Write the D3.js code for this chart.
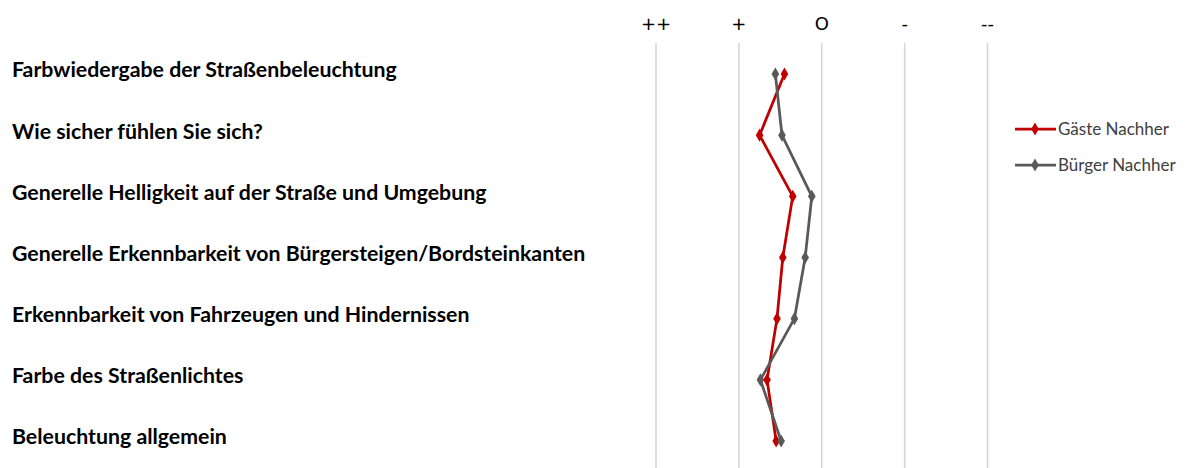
<!DOCTYPE html>
<html>
<head>
<meta charset="utf-8">
<script src="https://cdn.jsdelivr.net/npm/d3@7"></script>
<style>
  body { margin: 0; background: #fff; }
  svg { display: block; }
  .row-label { font-family: Lato, "Open Sans", sans-serif; font-weight: 700; font-size: 21.3px; fill: #000; }
  .scale-label { font-family: "DejaVu Sans", sans-serif; font-size: 18px; fill: #000; }
  .legend-label { font-family: Lato, sans-serif; font-size: 17px; fill: #404040; }
</style>
</head>
<body>
<div id="chart"></div>
<script>
// questions, top to bottom
const questions = [
  'Farbwiedergabe der Straßenbeleuchtung',
  'Wie sicher fühlen Sie sich?',
  'Generelle Helligkeit auf der Straße und Umgebung',
  'Generelle Erkennbarkeit von Bürgersteigen/Bordsteinkanten',
  'Erkennbarkeit von Fahrzeugen und Hindernissen',
  'Farbe des Straßenlichtes',
  'Beleuchtung allgemein'
];
// rating scale 1 (++) .. 5 (--)
const scaleLabels = ['++', '+', 'O', '-', '--'];
const gaesteNachher = [2.55, 2.25, 2.65, 2.53, 2.46, 2.34, 2.45];
const buergerNachher = [2.44, 2.52, 2.88, 2.80, 2.67, 2.26, 2.51];
const seriesNames = ['Gäste Nachher', 'Bürger Nachher'];
const seriesColors = ['#c00000', '#595959'];

const width = 1196, height = 468;
const svg = d3.select('#chart').append('svg')
  .attr('width', width)
  .attr('height', height);

const x = d3.scaleLinear().domain([1, 5]).range([656, 987.5]);
const y = d3.scalePoint().domain(questions).range([74, 441]);

// gridlines
svg.selectAll('.grid')
  .data(d3.range(1, 6))
  .enter().append('line')
  .attr('x1', d => x(d)).attr('x2', d => x(d))
  .attr('y1', 43).attr('y2', height)
  .attr('stroke', '#d4d4d4')
  .attr('stroke-width', 1.5);

// scale labels on top
svg.selectAll('.scale-label')
  .data(scaleLabels)
  .enter().append('text')
  .attr('class', 'scale-label')
  .attr('x', (d, i) => x(i + 1))
  .attr('y', 30)
  .attr('text-anchor', 'middle')
  .text(d => d);

// question labels
svg.selectAll('.row-label')
  .data(questions)
  .enter().append('text')
  .attr('class', 'row-label')
  .attr('x', 12)
  .attr('y', d => y(d) - 4)
  .attr('dy', '0.35em')
  .text(d => d);

const diamond = d3.symbol().type(d3.symbolDiamond).size(50);
const line = d3.line()
  .x(d => x(d.v))
  .y(d => y(d.q));

[gaesteNachher, buergerNachher].forEach((vals, s) => {
  let pts = vals.map((v, i) => ({ v: v, q: questions[i] }));
  let g = svg.append('g');
  g.append('path')
    .datum(pts)
    .attr('d', line)
    .attr('fill', 'none')
    .attr('stroke', seriesColors[s])
    .attr('stroke-width', 2.75)
    .attr('stroke-linejoin', 'round');
  g.selectAll('.pt')
    .data(pts)
    .enter().append('path')
    .attr('transform', d => 'translate(' + x(d.v) + ',' + y(d.q) + ')')
    .attr('d', diamond)
    .attr('fill', seriesColors[s]);
});

// legend
let legend = svg.selectAll('.legend')
  .data(seriesNames)
  .enter().append('g')
  .attr('transform', (d, i) => 'translate(1015,' + (129 + i * 36) + ')');
legend.append('line')
  .attr('x1', 0).attr('x2', 41)
  .attr('stroke', (d, i) => seriesColors[i])
  .attr('stroke-width', 2.75);
legend.append('path')
  .attr('transform', 'translate(20,0)')
  .attr('d', diamond)
  .attr('fill', (d, i) => seriesColors[i]);
legend.append('text')
  .attr('class', 'legend-label')
  .attr('x', 43)
  .attr('dy', '0.35em')
  .text(d => d);
</script>
</body>
</html>
